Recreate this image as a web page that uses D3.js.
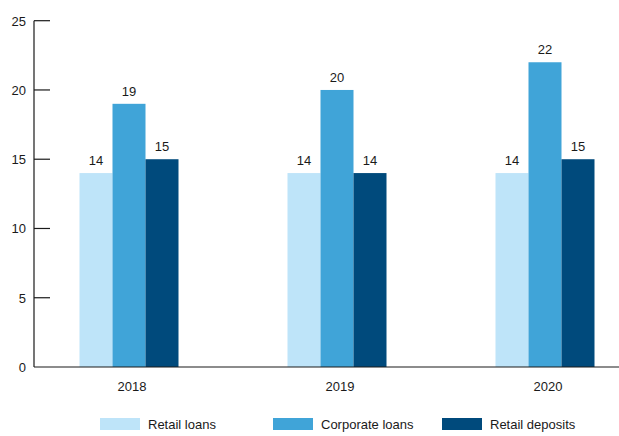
<!DOCTYPE html>
<html>
<head>
<meta charset="utf-8">
<title>Loans and deposits</title>
<script src="https://d3js.org/d3.v7.min.js"></script>
<style>
    body { margin: 0; background: #fff; }
    svg text { font-family: 'Liberation Sans', Arial, sans-serif; font-size: 13px; fill: #1a1a1a; }
    .axis-line { stroke: #1a1a1a; stroke-width: 1.2px; }
</style>
</head>
<body>
<svg id="chart" width="619" height="436"></svg>
<script>
    // data
    var years = ["2018", "2019", "2020"];
    var seriesNames = ["Retail loans", "Corporate loans", "Retail deposits"];
    var retailLoans = [14, 14, 14];
    var corporateLoans = [19, 20, 22];
    var retailDeposits = [15, 14, 15];
    var yTicks = [0, 5, 10, 15, 20, 25];
    var colors = ["#bee4f9", "#40a4d8", "#004a7c"];

    var svg = d3.select("#chart");
    var series = [retailLoans, corporateLoans, retailDeposits];

    var x = d3.scaleBand().domain(years).range([25, 649]).padding(0);
    var inner = d3.scaleBand().domain(seriesNames).range([0, 99]);
    var y = d3.scaleLinear().domain([0, 25]).range([367, 20.7]);

    // y axis
    svg.append("line").attr("class", "axis-line")
        .attr("x1", 34).attr("x2", 34).attr("y1", y(25)).attr("y2", y(0));
    yTicks.forEach(function(t) {
        if (t > 0) {
            svg.append("line").attr("class", "axis-line")
                .attr("x1", 34).attr("x2", 50).attr("y1", y(t)).attr("y2", y(t));
        }
        svg.append("text")
            .attr("x", 26).attr("y", y(t) + 5)
            .attr("text-anchor", "end")
            .text(t);
    });

    // bars
    years.forEach(function(yr, i) {
        var g = svg.append("g")
            .attr("transform", "translate(" + (x(yr) + x.bandwidth()/2 - 49.5) + ",0)");
        series.forEach(function(s, j) {
            g.append("rect")
                .attr("x", inner(seriesNames[j]))
                .attr("y", y(s[i]))
                .attr("width", inner.bandwidth())
                .attr("height", y(0) - y(s[i]))
                .style("fill", colors[j]);
            g.append("text")
                .attr("x", inner(seriesNames[j]) + inner.bandwidth()/2)
                .attr("y", y(s[i]) - 8)
                .attr("text-anchor", "middle")
                .text(s[i]);
        });
        svg.append("text")
            .attr("x", x(yr) + x.bandwidth()/2 + 3)
            .attr("y", 391)
            .attr("text-anchor", "middle")
            .text(yr);
    });

    // x axis line
    svg.append("line").attr("class", "axis-line")
        .attr("x1", 34).attr("x2", 619).attr("y1", y(0)).attr("y2", y(0));

    // legend
    var legendX = [100, 273, 442];
    seriesNames.forEach(function(name, j) {
        svg.append("rect")
            .attr("x", legendX[j]).attr("y", 418)
            .attr("width", 40).attr("height", 12)
            .style("fill", colors[j]);
        svg.append("text")
            .attr("x", legendX[j] + 48).attr("y", 429)
            .text(name);
    });
</script>
</body>
</html>
